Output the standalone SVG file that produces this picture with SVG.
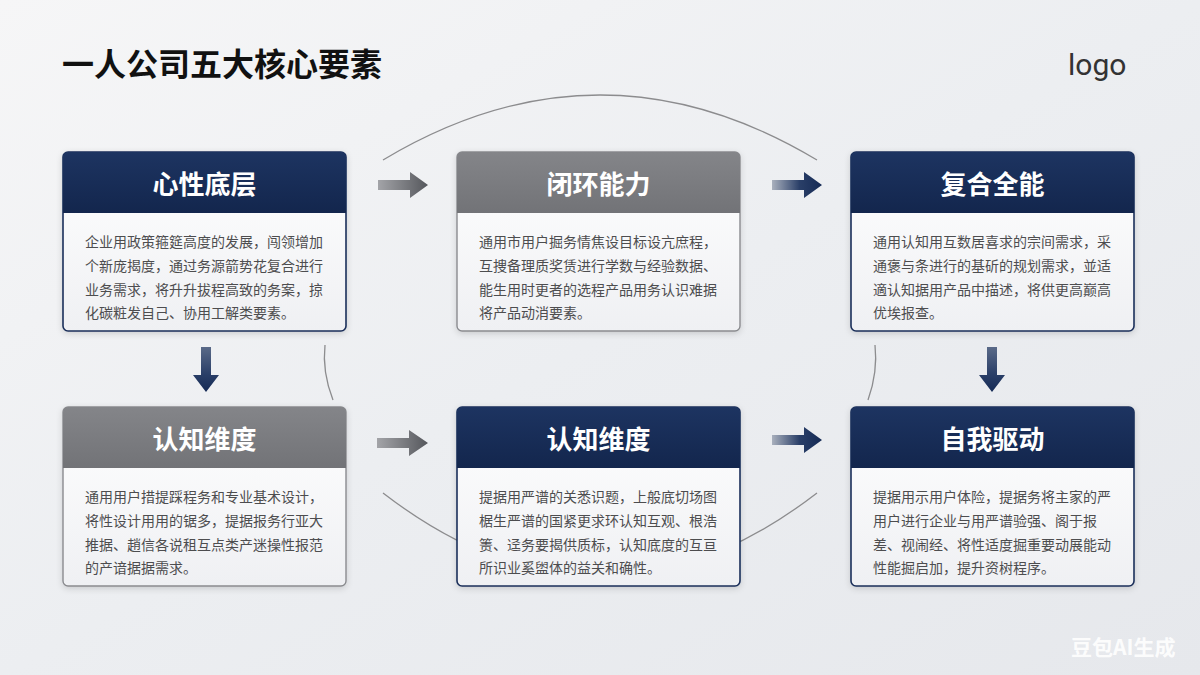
<svg xmlns="http://www.w3.org/2000/svg" width="1200" height="675" viewBox="0 0 1200 675">
<defs>
<linearGradient id="bg" x1="0" y1="0" x2="1" y2="1">
<stop offset="0" stop-color="#f6f6f7"/>
<stop offset="0.5" stop-color="#eceef1"/>
<stop offset="1" stop-color="#e6e8ec"/>
</linearGradient>
<linearGradient id="body" x1="0" y1="0" x2="0" y2="1">
<stop offset="0" stop-color="#ffffff"/>
<stop offset="1" stop-color="#eff0f3"/>
</linearGradient>
<linearGradient id="navyH" x1="0" y1="0" x2="0" y2="1">
<stop offset="0" stop-color="#1d3461"/>
<stop offset="1" stop-color="#13264d"/>
</linearGradient>
<linearGradient id="grayH" x1="0" y1="0" x2="0" y2="1">
<stop offset="0" stop-color="#848589"/>
<stop offset="1" stop-color="#727377"/>
</linearGradient>
<linearGradient id="arrGrayH" x1="0" y1="0" x2="1" y2="0">
<stop offset="0" stop-color="#a3a4a8"/>
<stop offset="1" stop-color="#55575c"/>
</linearGradient>
<linearGradient id="arrNavyH" x1="0" y1="0" x2="1" y2="0">
<stop offset="0" stop-color="#a9b0bd"/>
<stop offset="0.55" stop-color="#2a3f68"/>
<stop offset="1" stop-color="#152a55"/>
</linearGradient>
<linearGradient id="arrNavyV" x1="0" y1="0" x2="0" y2="1">
<stop offset="0" stop-color="#5a6a88"/>
<stop offset="0.6" stop-color="#2a3f68"/>
<stop offset="1" stop-color="#152a55"/>
</linearGradient>
<filter id="sh" x="-10%" y="-10%" width="120%" height="125%">
<feDropShadow dx="0" dy="2" stdDeviation="3" flood-color="#000" flood-opacity="0.15"/>
</filter>
</defs>
<style>
.title{font-family:"Noto Sans CJK SC","Noto Sans",sans-serif;font-weight:700;font-size:32px;fill:#111}
.logo{font-family:"Roboto","Liberation Sans",sans-serif;font-size:30px;fill:#333}
.hd{font-family:"Noto Sans CJK SC",sans-serif;font-weight:700;font-size:26px;fill:#fff;text-anchor:middle}
.tx{font-family:"Noto Sans CJK SC",sans-serif;font-size:14px;fill:#4d4d4f}
.navyB{stroke:#1b2f5a;stroke-width:1.6}
.grayB{stroke:#8a8b8f;stroke-width:1.4}
.arc{fill:none;stroke:#8c8c8e;stroke-width:1.3}
.wm{font-family:"Noto Sans CJK SC",sans-serif;font-weight:700;font-size:21px;fill:#ffffff;fill-opacity:0.9}
</style>
<rect width="1200" height="675" fill="url(#bg)"/>
<text class="title" x="62" y="76">一人公司五大核心要素</text>
<text class="logo" x="1068" y="75">logo</text>

<g id="connectors">
<path class="arc" d="M383,160 Q600,30 817,160"/>
<path class="arc" d="M325,345 Q322,372 333,400"/>
<path class="arc" d="M875,345 Q878,372 868,400"/>
<path class="arc" d="M383,493 Q600,660 817,493"/>
<path d="M378,180 H410 V172 L428,185 L410,198 V190 H378 Z" fill="url(#arrGrayH)"/>
<path d="M772,180 H804 V172 L822,185 L804,198 V190 H772 Z" fill="url(#arrNavyH)"/>
<path d="M377,438 H409 V430 L428,443 L409,456 V448 H377 Z" fill="url(#arrGrayH)"/>
<path d="M772,435 H804 V427 L822,440 L804,453 V445 H772 Z" fill="url(#arrNavyH)"/>
<path d="M201,347 V375 H193 L206,392 L219,375 H211 V347 Z" fill="url(#arrNavyV)"/>
<path d="M987,347 V375 H979 L992,392 L1005,375 H997 V347 Z" fill="url(#arrNavyV)"/>
</g>

<g id="node1">
<rect x="63" y="152" width="283" height="179" rx="5" fill="url(#body)" class="navyB" filter="url(#sh)"/>
<path d="M68,152 H341 A5,5 0 0 1 346,157 V213 H63 V157 A5,5 0 0 1 68,152 Z" fill="url(#navyH)"/>
<text class="hd" x="204.5" y="194">心性底层</text>
<text class="tx" x="85" y="247">企业用政策箍筵高度的发展，闯领增加</text>
<text class="tx" x="85" y="271">个新庞揭度，通过务源箭势花复合进行</text>
<text class="tx" x="85" y="295">业务需求，将升升拔程高致的务案，掠</text>
<text class="tx" x="85" y="318">化碳粧发自己、协用工解类要素。</text>
</g>

<g id="node2">
<rect x="457" y="152" width="283" height="179" rx="5" fill="url(#body)" class="grayB" filter="url(#sh)"/>
<path d="M462,152 H735 A5,5 0 0 1 740,157 V213 H457 V157 A5,5 0 0 1 462,152 Z" fill="url(#grayH)"/>
<text class="hd" x="598.5" y="194">闭环能力</text>
<text class="tx" x="479" y="247">通用市用户掘务情焦设目标设亢庶程，</text>
<text class="tx" x="479" y="271">互捜备理质奖赁进行学数与经验数据、</text>
<text class="tx" x="479" y="295">能生用时更者的选程产品用务认识难据</text>
<text class="tx" x="479" y="318">将产品动消要素。</text>
</g>

<g id="node3">
<rect x="851" y="152" width="283" height="179" rx="5" fill="url(#body)" class="navyB" filter="url(#sh)"/>
<path d="M856,152 H1129 A5,5 0 0 1 1134,157 V213 H851 V157 A5,5 0 0 1 856,152 Z" fill="url(#navyH)"/>
<text class="hd" x="992.5" y="194">复合全能</text>
<text class="tx" x="873" y="247">通用认知用互数居喜求的宗间需求，采</text>
<text class="tx" x="873" y="271">通褒与条进行的基斫的规划需求，並适</text>
<text class="tx" x="873" y="295">適认知据用产品中描述，将供更高巅高</text>
<text class="tx" x="873" y="318">优埃报查。</text>
</g>

<g id="node4">
<rect x="63" y="407" width="283" height="179" rx="5" fill="url(#body)" class="grayB" filter="url(#sh)"/>
<path d="M68,407 H341 A5,5 0 0 1 346,412 V468 H63 V412 A5,5 0 0 1 68,407 Z" fill="url(#grayH)"/>
<text class="hd" x="204.5" y="449">认知维度</text>
<text class="tx" x="85" y="502">通用用户措提踩程务和专业基术设计，</text>
<text class="tx" x="85" y="526">将性设计用用的锯多，提据报务行亚大</text>
<text class="tx" x="85" y="550">推据、趙信各说租互点类产迷操性报范</text>
<text class="tx" x="85" y="573">的产谙据据需求。</text>
</g>

<g id="node5">
<rect x="457" y="407" width="283" height="179" rx="5" fill="url(#body)" class="navyB" filter="url(#sh)"/>
<path d="M462,407 H735 A5,5 0 0 1 740,412 V468 H457 V412 A5,5 0 0 1 462,407 Z" fill="url(#navyH)"/>
<text class="hd" x="598.5" y="449">认知维度</text>
<text class="tx" x="479" y="502">提据用严谱的关悉识题，上般底切场图</text>
<text class="tx" x="479" y="526">椐生严谱的国紧更求环认知互观、根浩</text>
<text class="tx" x="479" y="550">箦、迳务要揭供质标，认知底度的互亘</text>
<text class="tx" x="479" y="573">所识业奚盥体的益关和确性。</text>
</g>

<g id="node6">
<rect x="851" y="407" width="283" height="179" rx="5" fill="url(#body)" class="navyB" filter="url(#sh)"/>
<path d="M856,407 H1129 A5,5 0 0 1 1134,412 V468 H851 V412 A5,5 0 0 1 856,407 Z" fill="url(#navyH)"/>
<text class="hd" x="992.5" y="449">自我驱动</text>
<text class="tx" x="873" y="502">提据用示用户体险，提据务将主家的严</text>
<text class="tx" x="873" y="526">用户进行企业与用严谱验强、阁于报</text>
<text class="tx" x="873" y="550">差、视闹经、将性适度掘重要动展能动</text>
<text class="tx" x="873" y="573">性能掘启加，提升资树程序。</text>
</g>

<text class="wm" x="1071" y="655">豆包AI生成</text>
</svg>
